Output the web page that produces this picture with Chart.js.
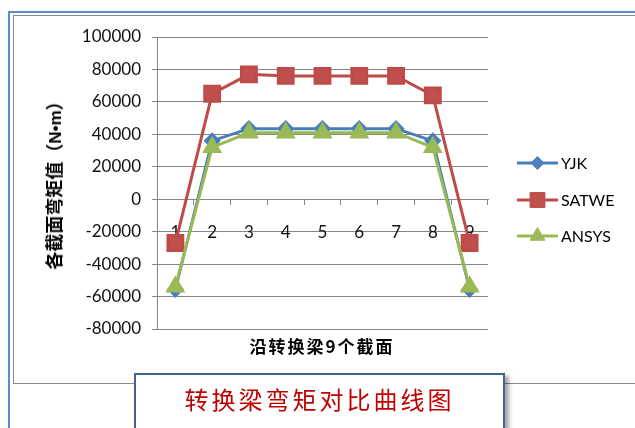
<!DOCTYPE html>
<html>
<head>
<meta charset="utf-8">
<script src="https://cdn.jsdelivr.net/npm/chart.js@4.4.0/dist/chart.umd.min.js"></script>
<style>
  html, body { margin: 0; padding: 0; background: #fff; }
  #wrap { position: relative; width: 635px; height: 428px; overflow: hidden; }
  #outer { position: absolute; left: 8px; top: 11px; width: 700px; height: 500px; border: 2px solid #5b8bc9; box-sizing: border-box; }
  #inner { position: absolute; left: 13px; top: 15px; width: 700px; height: 369px; border: 1.5px solid #8c8c8c; border-right: none; box-sizing: border-box; }
  #myChart { position: absolute; left: 0; top: 0; z-index: 1; }
  .ytitle { position: absolute; left: 53px; top: 181px; transform: translate(-50%, -50%) rotate(-90deg);
    font: bold 18px "Noto Sans CJK SC"; white-space: nowrap; z-index: 2; color: #000; }
  .ytitle .lat { font-family: "Liberation Sans"; font-size: 17px; }
  .xtitle { position: absolute; left: 322px; top: 345px; transform: translate(-50%, -50%);
    font: bold 17px "Noto Sans CJK SC"; letter-spacing: 2px; white-space: nowrap; z-index: 2; color: #000; }
  #titleBox { position: absolute; left: 134px; top: 373px; width: 371px; height: 80px; background: #fff;
    border: 2px solid #3f6497; box-sizing: border-box; z-index: 3; box-shadow: 4px 3px 4px rgba(0,0,0,0.35); }
  #titleBox span { position: absolute; left: 0; right: 0; top: 6px; text-align: center;
    font: 24px "Noto Sans CJK SC"; letter-spacing: 3px; color: #c00000; }
</style>
</head>
<body>
<div id="wrap">
  <div id="outer"></div>
  <div id="inner"></div>
  <canvas id="myChart" width="635" height="428"></canvas>
  <div class="ytitle">各截面弯矩值（<span class="lat">N•m</span>）</div>
  <div class="xtitle">沿转换梁9个截面</div>
  <div id="titleBox"><span>转换梁弯矩对比曲线图</span></div>
</div>
<script>
const sections = ['1', '2', '3', '4', '5', '6', '7', '8', '9'];
const yjk = [-55500, 36000, 43500, 43500, 43500, 43500, 43500, 36000, -55500];
const satwe = [-27000, 65000, 77000, 76000, 76000, 76000, 76000, 64000, -27000];
const ansys = [-54000, 32000, 41000, 41000, 41000, 41000, 41000, 32000, -54000];
const yTicks = [-80000, -60000, -40000, -20000, 0, 20000, 40000, 60000, 80000, 100000];

const tickFont = { family: 'Lato', size: 17 };

// legend drawn like excel: short line with marker in the middle
const sideLegend = {
    id: 'sideLegend',
    afterDraw: (chart) => {
        const ctx = chart.ctx;
        const rows = [163, 200, 236];
        chart.data.datasets.forEach((ds, i) => {
            const y = rows[i];
            ctx.save();
            ctx.strokeStyle = ds.borderColor;
            ctx.lineWidth = 3;
            ctx.beginPath();
            ctx.moveTo(517, y);
            ctx.lineTo(558, y);
            ctx.stroke();
            ctx.fillStyle = ds.pointBackgroundColor;
            ctx.strokeStyle = ds.pointBorderColor;
            ctx.lineWidth = 1;
            Chart.helpers.drawPoint(ctx, { pointStyle: ds.pointStyle, radius: ds.pointRadius, borderWidth: 1 }, 537.5, y);
            ctx.fillStyle = '#000';
            ctx.font = '16px Lato';
            ctx.textBaseline = 'middle';
            ctx.fillText(ds.label, 561, y + 1);
            ctx.restore();
        });
    }
};

const ctx = document.getElementById('myChart').getContext('2d');
const myChart = new Chart(ctx, {
    type: 'line',
    data: {
        labels: sections,
        datasets: [{
            label: 'YJK',
            data: yjk,
            borderColor: '#4a7ebb',
            borderWidth: 3,
            pointStyle: 'rectRot',
            pointRadius: 6.5,
            pointBackgroundColor: '#4f81bd',
            pointBorderColor: '#4a7ebb',
            order: 2
        }, {
            label: 'SATWE',
            data: satwe,
            borderColor: '#be4b48',
            borderWidth: 3,
            pointStyle: 'rect',
            pointRadius: 10.5,
            pointBackgroundColor: '#c0504d',
            pointBorderColor: '#be4b48',
            order: 1
        }, {
            label: 'ANSYS',
            data: ansys,
            borderColor: '#98b954',
            borderWidth: 3,
            pointStyle: 'triangle',
            pointRadius: 8.5,
            pointBackgroundColor: '#9bbb59',
            pointBorderColor: '#98b954',
            order: 0
        }]
    },
    options: {
        responsive: false,
        animation: false,
        layout: { padding: { left: 0, top: 37, right: 147, bottom: 99 } },
        plugins: {
            legend: { display: false },
            tooltip: { enabled: false }
        },
        scales: {
            x: {
                position: { y: 0 },
                offset: true,
                grid: { offset: true, drawOnChartArea: false, drawTicks: true, tickLength: 5, color: '#868686' },
                border: { display: true, color: '#868686' },
                ticks: { color: '#111', font: tickFont, padding: 18, maxRotation: 0 }
            },
            y: {
                min: -80000,
                max: 100000,
                afterBuildTicks: (scale) => { scale.ticks = yTicks.map(v => ({ value: v })); },
                afterFit: (scale) => { scale.width = 157; },
                grid: { color: '#868686', tickLength: 5 },
                border: { display: true, color: '#868686' },
                ticks: { color: '#111', font: tickFont, padding: 11, callback: (v) => String(v) }
            }
        }
    },
    plugins: [sideLegend]
});
</script>
</body>
</html>
